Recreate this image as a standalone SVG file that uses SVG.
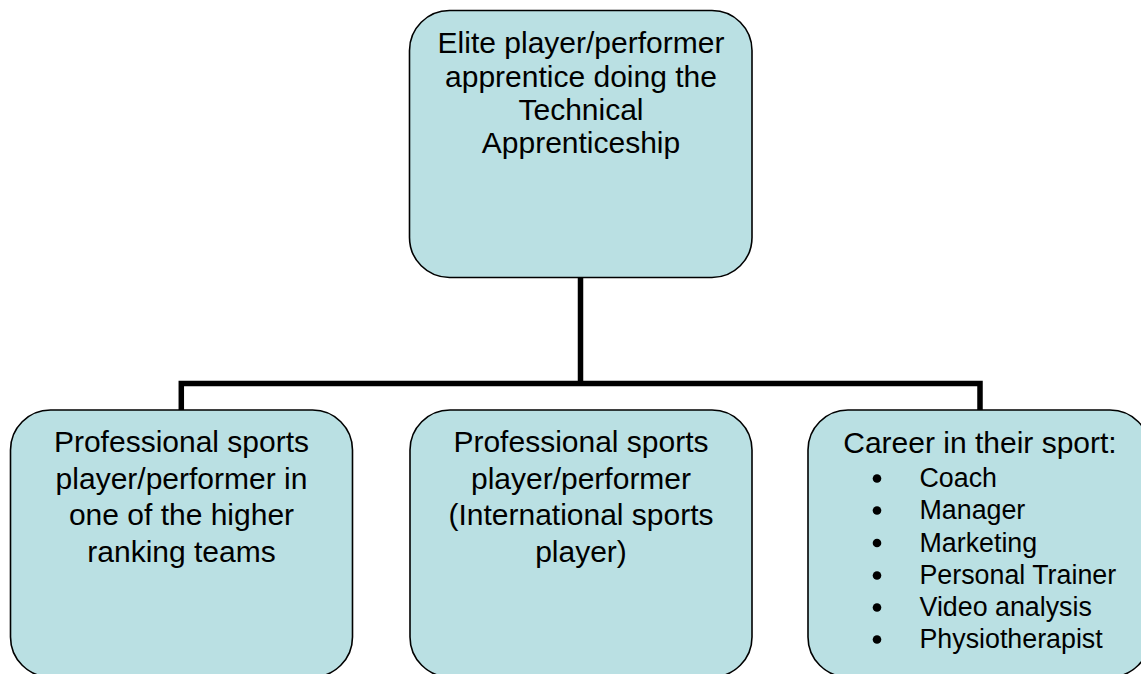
<svg xmlns="http://www.w3.org/2000/svg" width="1141" height="674" viewBox="0 0 1141 674">
  <style>
    .box { fill: #BAE0E3; stroke: #000000; stroke-width: 1.6; }
    .wire { fill: none; stroke: #000000; stroke-width: 5.5; stroke-linejoin: miter; }
    .lbl { font-family: "Liberation Sans", Arial, sans-serif; font-size: 30px; fill: #000000; text-anchor: middle; }
    .item { font-family: "Liberation Sans", Arial, sans-serif; font-size: 26.8px; fill: #000000; }
    .dot { fill: #000000; }
  </style>
  <rect width="1141" height="674" fill="#FFFFFF"/>

  <!-- tree connectors -->
  <g id="connectors">
    <path class="wire" d="M580.5,277 V383.5"/>
    <path class="wire" d="M181.3,410 V383.5 H980 V410"/>
  </g>

  <!-- root node -->
  <g id="node-elite">
    <rect class="box" x="409.5" y="10.5" width="342.5" height="267" rx="40" ry="40"/>
    <text class="lbl" x="581" y="53.3">Elite player/performer</text>
    <text class="lbl" x="581" y="86.5">apprentice doing the</text>
    <text class="lbl" x="581" y="119.7">Technical</text>
    <text class="lbl" x="581" y="152.9">Apprenticeship</text>
  </g>

  <!-- children -->
  <g id="node-professional-team">
    <rect class="box" x="10.5" y="410" width="342" height="267" rx="40" ry="40"/>
    <text class="lbl" x="181.5" y="452">Professional sports</text>
    <text class="lbl" x="181.5" y="488.5">player/performer in</text>
    <text class="lbl" x="181.5" y="525">one of the higher</text>
    <text class="lbl" x="181.5" y="561.5">ranking teams</text>
  </g>

  <g id="node-international">
    <rect class="box" x="410" y="410" width="342" height="267" rx="40" ry="40"/>
    <text class="lbl" x="581" y="452">Professional sports</text>
    <text class="lbl" x="581" y="488.5">player/performer</text>
    <text class="lbl" x="581" y="525">(International sports</text>
    <text class="lbl" x="581" y="561.5">player)</text>
  </g>

  <g id="node-career">
    <rect class="box" x="808" y="410" width="342" height="267" rx="40" ry="40"/>
    <text class="lbl" x="980" y="453">Career in their sport:</text>
    <circle class="dot" cx="877" cy="478.5" r="4.3"/>
    <text class="item" x="919.5" y="487">Coach</text>
    <circle class="dot" cx="877" cy="510.5" r="4.3"/>
    <text class="item" x="919.5" y="519">Manager</text>
    <circle class="dot" cx="877" cy="543" r="4.3"/>
    <text class="item" x="919.5" y="551.5">Marketing</text>
    <circle class="dot" cx="877" cy="575.5" r="4.3"/>
    <text class="item" x="919.5" y="584">Personal Trainer</text>
    <circle class="dot" cx="877" cy="607.5" r="4.3"/>
    <text class="item" x="919.5" y="616">Video analysis</text>
    <circle class="dot" cx="877" cy="639.5" r="4.3"/>
    <text class="item" x="919.5" y="648">Physiotherapist</text>
  </g>
</svg>
